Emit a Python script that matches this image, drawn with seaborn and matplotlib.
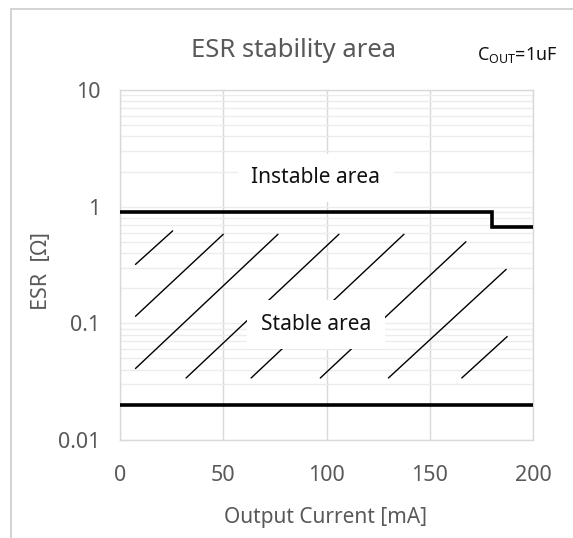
import matplotlib
matplotlib.use("Agg")
import matplotlib.pyplot as plt
import matplotlib.ticker as mticker
from matplotlib.patches import Rectangle
import numpy as np
import pandas as pd
import seaborn as sns

# ---- data -------------------------------------------------------------
# upper ESR limit (instable above), steps down at 180 mA
upper_current = [0, 180, 180, 200]
upper_esr = [0.9, 0.9, 0.67, 0.67]
# lower ESR limit
lower_current = [0, 200]
lower_esr = [0.02, 0.02]

# diagonal hatch strokes marking the stable region
hatch_x0 = [7.5, 7.5, 7.5, 32.0, 63.5, 97.0, 130.0, 165.5]
hatch_y0 = [0.32, 0.115, 0.041, 0.034, 0.034, 0.034, 0.034, 0.034]
hatch_x1 = [25.5, 50.0, 76.5, 106.0, 137.5, 167.5, 187.0, 187.5]
hatch_y1 = [0.62, 0.58, 0.58, 0.58, 0.58, 0.50, 0.29, 0.077]

x_ticks = [0, 50, 100, 150, 200]
y_ticks = [0.01, 0.1, 1, 10]
y_tick_labels = ["0.01", "0.1", "1", "10"]

# ---- tables -------------------------------------------------------------
bound_df = pd.DataFrame({
    "current": upper_current + lower_current,
    "esr": upper_esr + lower_esr,
    "boundary": ["upper"] * len(upper_current) + ["lower"] * len(lower_current),
})

rows = []
for i, (a, b, c, d) in enumerate(zip(hatch_x0, hatch_y0, hatch_x1, hatch_y1)):
    rows.append({"current": a, "esr": b, "segment": i})
    rows.append({"current": c, "esr": d, "segment": i})
hatch_df = pd.DataFrame(rows)

# ---- style ------------------------------------------------------------
sns.set_theme(style="white")
plt.rcParams["font.family"] = ["Noto Sans", "Noto Sans CJK JP", "DejaVu Sans"]

GRAY_TXT = "#595959"
GRID_V = "#d9d9d9"
GRID_H = "#ececec"

W, H = 573, 538
fig = plt.figure(figsize=(W / 100, H / 100), dpi=100)
ax = fig.add_axes([120 / W, 1 - 440 / H, 413 / W, 350 / H])

# outer chart frame
fig.patches.append(Rectangle((11 / W, -0.1), 1.2, 1.1 - 9 / H,
                             transform=fig.transFigure, fill=False,
                             edgecolor="#d0d0d0", lw=1.3, zorder=0))

ax.set_yscale("log")
ax.set_xlim(0, 200)
ax.set_ylim(0.01, 10)

sns.lineplot(data=hatch_df, x="current", y="esr", units="segment",
             estimator=None, sort=False, color="black", lw=1.0, ax=ax,
             zorder=3)
sns.lineplot(data=bound_df, x="current", y="esr", units="boundary",
             estimator=None, sort=False, color="black", lw=2.6, ax=ax,
             zorder=4, solid_joinstyle="miter")

# ticks and grid
ax.xaxis.set_major_locator(mticker.FixedLocator(x_ticks))
ax.xaxis.set_minor_locator(mticker.MultipleLocator(10))
ax.yaxis.set_major_locator(mticker.FixedLocator(y_ticks))
ax.yaxis.set_major_formatter(mticker.FixedFormatter(y_tick_labels))
ax.yaxis.set_minor_locator(mticker.LogLocator(base=10, subs=np.arange(2, 10)))
ax.yaxis.set_minor_formatter(mticker.NullFormatter())

ax.grid(True, axis="x", which="major", color=GRID_V, lw=1.0, zorder=0)
ax.grid(True, axis="y", which="both", color=GRID_H, lw=1.0, zorder=0)
ax.set_axisbelow(True)

ax.tick_params(axis="both", which="both", direction="in", color=GRID_V,
               width=1.0, labelcolor=GRAY_TXT, labelsize=15.5)
ax.tick_params(axis="x", which="major", length=0, pad=18)
ax.tick_params(axis="x", which="minor", length=3.5)
ax.tick_params(axis="y", which="major", length=3.5, pad=14)
ax.tick_params(axis="y", which="minor", length=3.5)

for s in ax.spines.values():
    s.set_color(GRID_V)
    s.set_linewidth(1.0)

ax.set_xlabel("Output Current [mA]", fontsize=15, color=GRAY_TXT, va="center")
ax.xaxis.set_label_coords(0.4978, -0.22)
ax.set_ylabel("ESR  [Ω]", fontsize=15.5, color=GRAY_TXT, va="center")
ax.yaxis.set_label_coords(-0.189, 0.483)

# region labels on white boxes
box = dict(boxstyle="square,pad=0.65", facecolor="white", edgecolor="none")
ax.text(94.7, 1.59, "Instable area", fontsize=15, color="#111111",
        ha="center", va="baseline", bbox=box, zorder=5)
ax.text(95, 0.0877, "Stable area", fontsize=15, color="#111111",
        ha="center", va="baseline", bbox=box, zorder=5)

fig.text(294 / W, 1 - 57 / H, "ESR stability area", fontsize=18.5,
         color=GRAY_TXT, ha="center", va="baseline")
fig.text(517.5 / W, 1 - 60 / H, r"$\mathregular{C_{OUT}}$=1uF", fontsize=12.9,
         color="#111111", ha="center", va="baseline")

fig.savefig("out.png", dpi=100, facecolor="white")
